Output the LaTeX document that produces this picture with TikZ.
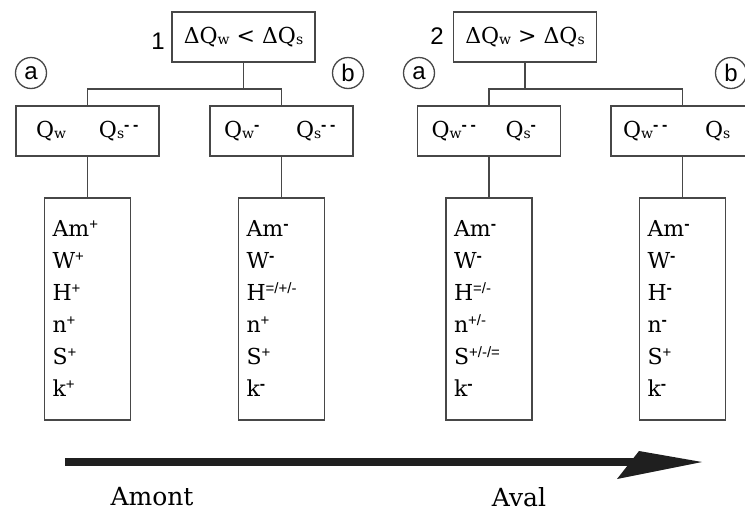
\documentclass[tikz,border=0pt]{standalone}
\usepackage{fontspec}
\setmainfont{DejaVu Serif}
\newfontfamily\labelfont{Liberation Sans}
\usetikzlibrary{positioning}
\newcommand{\lo}[1]{\raisebox{-1pt}{\fontsize{14}{14}\selectfont #1}}
\newcommand{\hi}[1]{\raisebox{7pt}{\labelfont\fontsize{15}{15}\selectfont #1}}
\newcommand{\dsh}{\raisebox{7pt}{\labelfont\bfseries\fontsize{16}{16}\selectfont -}}

\begin{document}
\begin{tikzpicture}[
                x=1pt, y=-1pt,
                linkline/.style = {draw=black!72, line width=1.7pt},
                condbox/.style = {rectangle, draw=black!72, line width=1.7pt, minimum width=143pt, minimum height=50pt, inner sep=2pt, font=\fontsize{22}{26}\selectfont},
                flowbox/.style = {rectangle, draw=black!72, line width=1.7pt, minimum height=50pt, text width=115pt, inner xsep=14pt, align=left, font=\fontsize{22}{26}\selectfont},
                varbox/.style = {rectangle, draw=black!72, line width=1.7pt, minimum height=222pt, text width=70pt, inner xsep=8pt, align=left, font=\fontsize{22}{32}\selectfont},
                casetag/.style = {circle, draw=black!72, line width=1.3pt, minimum size=31pt, inner sep=0pt, font=\labelfont\fontsize{24}{24}\selectfont},
                numtag/.style = {inner sep=0pt, font=\labelfont\fontsize{24}{24}\selectfont},
                reachtag/.style = {inner sep=0pt, font=\fontsize{25}{28}\selectfont}
        ]
        \useasboundingbox (0,0) rectangle (745,512);

        \node[condbox] (top1) at (243.5,37) {ΔQ\lo{w} < ΔQ\lo{s}};
        \node[condbox] (top2) at (525,37) {ΔQ\lo{w} > ΔQ\lo{s}};
        \node[numtag] (num1) at (158,41) {1};
        \node[numtag] (num2) at (437,36) {2};

        \node[casetag] (casea1) at (31,73) {a};
        \node[casetag] (caseb1) at (348,73) {b};
        \node[casetag] (casea2) at (419,73) {a};
        \node[casetag] (caseb2) at (731,73) {b};

        \node[flowbox] (qa1) at (87.5,131) {\hspace{6pt}\makebox[63pt][l]{Q\lo{w}}Q\lo{s}\dsh\,\dsh};
        \node[flowbox] (qb1) at (281.5,131) {\makebox[72pt][l]{Q\lo{w}\dsh}Q\lo{s}\dsh\,\dsh};
        \node[flowbox] (qa2) at (489,131) {\makebox[74pt][l]{Q\lo{w}\dsh\,\dsh}Q\lo{s}\dsh};
        \node[flowbox] (qb2) at (682.5,131) {\hspace{-2pt}\makebox[82pt][l]{Q\lo{w}\dsh\,\dsh}Q\lo{s}};

        \node[varbox, below=40pt of qa1] (va1) {Am\hi{+}\\W\hi{+}\\H\hi{+}\\n\hi{+}\\S\hi{+}\\k\hi{+}};
        \node[varbox, below=40pt of qb1] (vb1) {Am\dsh\\W\dsh\\H\hi{=/+/-}\\n\hi{+}\\S\hi{+}\\k\dsh};
        \node[varbox, below=40pt of qa2] (va2) {Am\dsh\\W\dsh\\H\hi{=/-}\\n\hi{+/-}\\S\hi{+/-/=}\\k\dsh};
        \node[varbox, below=40pt of qb2] (vb2) {Am\dsh\\W\dsh\\H\dsh\\n\dsh\\S\hi{+}\\k\dsh};

        \draw[linkline] (top1.south) -- ++(0,26) coordinate (fork1);
        \draw[linkline] (qa1.north) |- (fork1) -| (qb1.north);
        \draw[linkline] (top2.south) -- ++(0,26) coordinate (fork2);
        \draw[linkline] (qa2.north) |- (fork2) -| (qb2.north);
        \draw[linkline] (qa1.south) -- (va1.north);
        \draw[linkline] (qb1.south) -- (vb1.north);
        \draw[linkline] (qa2.south) -- (va2.north);
        \draw[linkline] (qb2.south) -- (vb2.north);

        \coordinate (flowstart) at (65,462);
        \coordinate (flowend) at (636,462);
        \draw[line width=7.5pt, black!88] (flowstart) -- (flowend);
        \fill[black!88] (639,451) -- (702,462) -- (617,479) -- cycle;
        \node[reachtag] (amont) at (152,497) {Amont};
        \node[reachtag] (aval) at (519,497) {Aval};
\end{tikzpicture}
\end{document}
